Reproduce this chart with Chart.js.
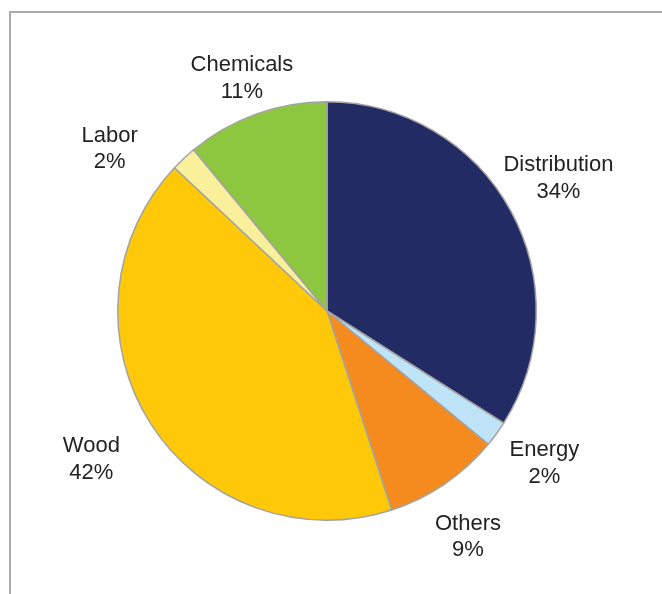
<!DOCTYPE html>
<html>
<head>
<meta charset="utf-8">
<script src="https://cdn.jsdelivr.net/npm/chart.js@4/dist/chart.umd.min.js"></script>
<style>
	html, body { margin: 0; padding: 0; background: #fff; }
	#wrap { width: 662px; height: 594px; position: relative; }
</style>
</head>
<body>
<div id="wrap"><canvas id="pie-chart" width="662" height="594"></canvas></div>
<script>
// data (percent of total)
const categories = ['Distribution', 'Energy', 'Others', 'Wood', 'Labor', 'Chemicals'];
const shares = [34, 2, 9, 42, 2, 11];
const sliceColors = ['#232b65', '#bfe3f7', '#f58a1f', '#ffc90a', '#faf09b', '#8dc63f'];

// label placement: distance out (x radius) and a small turn (degrees) off the slice middle
const labelReach = [1.277, 1.265, 1.268, 1.328, 1.299, 1.189];
const labelTurn = [-1.2, -1.2, 2.1, 0.4, -9.9, -0.2];

// grey frame round the plot, open at right and bottom
const framePlugin = {
	id: 'frame',
	beforeDraw: function (chart) {
		const ctx = chart.ctx;
		ctx.save();
		ctx.strokeStyle = '#ababab';
		ctx.lineWidth = 2;
		ctx.strokeRect(10, 12, chart.width + 20, chart.height + 20);
		ctx.restore();
	}
};

const outsideLabels = {
	id: 'outsideLabels',
	afterDatasetsDraw: function (chart) {
		const ctx = chart.ctx;
		const arcs = chart.getDatasetMeta(0).data;
		ctx.save();
		ctx.font = '22px "Liberation Sans", Arial, sans-serif';
		ctx.fillStyle = '#222';
		ctx.textAlign = 'center';
		ctx.textBaseline = 'middle';
		arcs.forEach(function (arc, i) {
			const mid = (arc.startAngle + arc.endAngle) / 2 + labelTurn[i] * Math.PI / 180;
			const d = arc.outerRadius * labelReach[i];
			const x = arc.x + Math.cos(mid) * d;
			const y = arc.y + Math.sin(mid) * d;
			ctx.fillText(categories[i], x, y - 12);
			ctx.fillText(shares[i] + '%', x, y + 14.5);
		});
		ctx.restore();
	}
};

new Chart(document.getElementById('pie-chart'), {
	type: 'pie',
	data: {
		labels: categories,
		datasets: [{
			data: shares,
			backgroundColor: sliceColors,
			borderColor: '#a3a3a3',
			borderWidth: 1.5,
			hoverOffset: 0
		}]
	},
	options: {
		responsive: false,
		animation: false,
		layout: { padding: { left: 117, right: 125, top: 101, bottom: 73 } },
		plugins: {
			legend: { display: false },
			tooltip: { enabled: false }
		}
	},
	plugins: [framePlugin, outsideLabels]
});
</script>
</body>
</html>
